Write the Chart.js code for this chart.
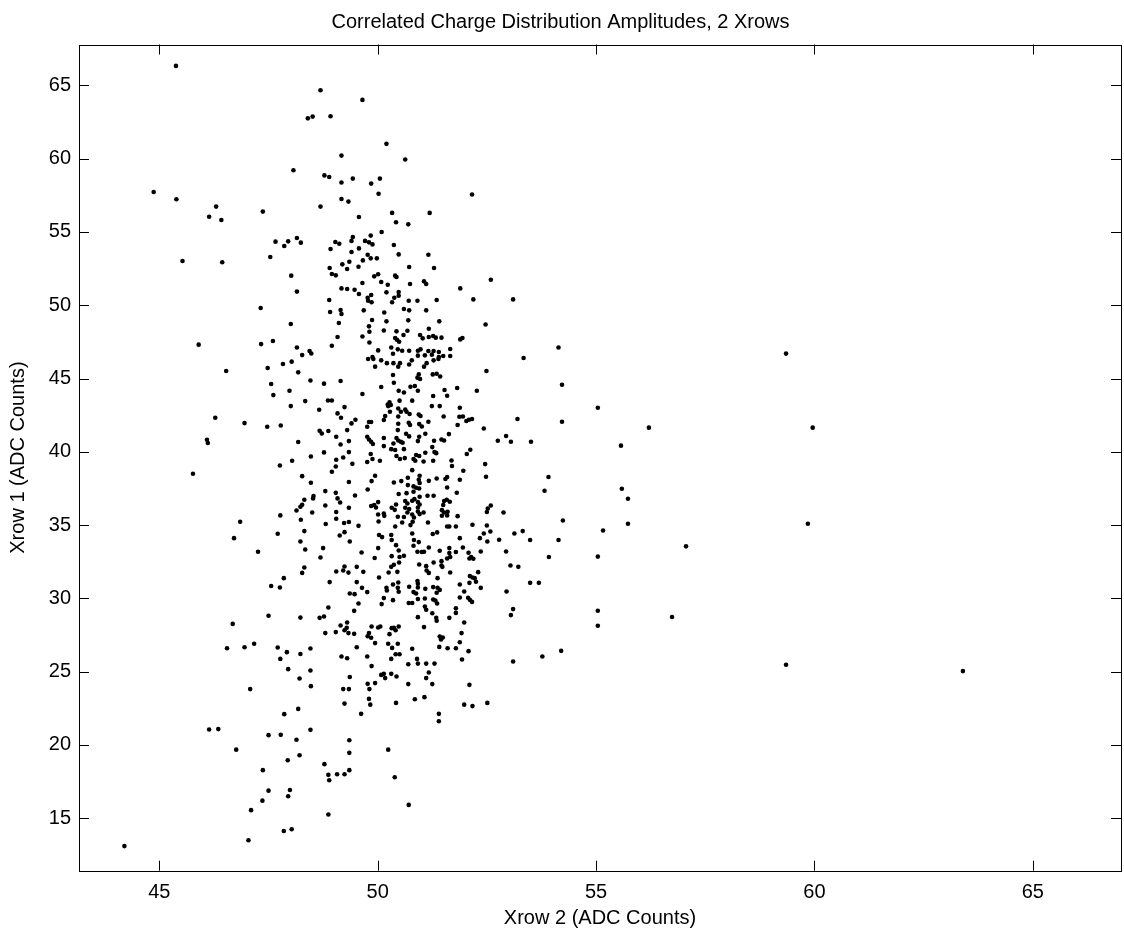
<!DOCTYPE html>
<html>
<head>
<meta charset="utf-8">
<script src="https://cdn.jsdelivr.net/npm/chart.js@4.4.0/dist/chart.umd.min.js"></script>
<style>
  html, body { margin: 0; padding: 0; background: #fff; }
  #wrap { width: 1124px; height: 938px; }
</style>
</head>
<body>
<div id="wrap"><canvas id="scatter" width="1124" height="938"></canvas></div>
<script>
// Xrow 2 amplitude (x) and Xrow 1 amplitude (y), ADC counts
const xrow2 = [
  45.38,48.69,48.40,48.51,48.92,49.17,48.07,48.78,48.89,49.17,44.87,
  49.65,50.20,50.63,49.43,49.85,50.05,50.02,52.16,
  45.39,46.30,46.14,46.42,47.37,48.69,49.17,49.33,47.66,47.95,
  48.15,48.24,47.86,49.03,49.12,48.92,45.53,46.44,47.54,49.35,
  48.90,49.19,49.30,48.95,49.04,48.02,48.15,49.17,49.30,48.89,
  48.91,49.15,49.17,47.32,48.01,49.11,49.08,45.90,47.33,47.60,
  48.15,48.44,48.48,48.27,48.95,48.03,
  50.33,51.19,49.57,50.42,50.70,50.09,49.43,49.84,49.71,49.80,
  49.88,49.40,50.37,49.57,49.40,49.77,49.84,49.98,49.66,50.48,
  51.16,49.56,50.72,51.29,49.92,50.01,50.40,50.43,49.65,50.08,
  50.23,50.74,51.06,51.11,51.89,52.59,49.47,49.57,49.85,50.20,
  50.48,50.48,50.38,49.77,49.78,49.86,50.33,50.71,50.91,51.35,
  52.19,53.10,49.68,50.60,50.72,51.11,50.15,49.87,50.20,50.70,
  51.41,49.80,49.81,50.14,50.43,50.68,51.17,52.47,49.65,50.59,
  50.40,50.44,50.49,50.97,51.03,51.17,51.27,51.33,51.46,51.89,
  51.94,49.81,50.31,50.46,50.56,50.72,50.92,50.98,51.16,51.28,
  51.40,51.66,50.01,50.35,50.92,51.08,51.24,51.40,51.50,51.66,
  49.78,49.88,49.90,50.08,50.78,51.28,51.39,53.34,54.14,
  47.83,47.48,46.53,48.18,48.46,48.77,49.15,47.56,47.61,47.98,
  48.34,48.86,48.95,48.01,49.24,48.66,49.08,49.16,46.28,46.95,
  47.47,47.78,48.67,48.72,48.87,49.30,49.05,46.09,46.11,48.18,
  49.15,49.34,48.77,48.47,49.21,49.05,49.34,48.04,47.76,49.04,
  48.95,45.77,48.27,48.47,49.34,48.80,49.04,48.53,48.52,48.32,
  49.08,49.14,48.80,48.27,48.23,48.14,48.50,49.05,49.34,47.77,
  48.24,49.05,46.85,48.81,49.23,49.34,
  49.94,50.47,50.72,51.06,50.21,50.36,50.51,51.12,52.49,50.35,
  50.94,50.91,50.97,51.26,51.35,51.43,50.37,50.08,50.75,50.85,
  50.92,50.48,50.60,51.53,51.82,52.27,49.65,51.59,51.27,50.50,
  50.79,50.23,50.27,50.30,50.24,51.24,51.42,51.88,50.47,50.63,
  50.53,50.28,50.66,50.73,50.94,50.98,50.17,50.47,51.51,51.87,
  51.95,50.14,49.49,49.40,51.16,52.03,52.09,52.16,53.20,49.85,
  49.80,50.47,50.71,50.74,50.95,51.01,51.83,49.76,52.43,50.46,
  51.63,51.09,50.65,50.72,50.95,49.76,49.80,49.85,49.89,50.14,
  50.43,50.47,50.53,50.57,50.36,50.92,51.46,51.52,51.29,52.75,
  52.94,53.05,53.51,50.14,51.25,51.30,51.34,50.31,50.40,50.60,
  51.09,50.88,50.95,49.84,52.12,52.04,50.43,50.51,50.62,50.82,
  50.86,51.05,51.27,49.88,49.76,50.05,51.69,49.42,51.70,52.46,
  50.79,51.96,50.96,49.94,50.69,52.48,51.35,51.17,51.55,51.59,
  51.88,49.86,50.37,50.54,50.94,50.96,53.91,50.82,50.88,50.95,
  50.69,49.77,51.59,53.82,50.48,50.66,50.82,50.96,51.14,51.28,
  51.81,49.48,50.79,50.84,50.92,50.96,50.63,50.68,50.42,50.01,
  49.85,49.92,49.96,50.32,50.39,51.52,51.58,51.65,51.50,51.47,
  51.52,51.60,51.59,51.47,52.52,52.59,52.50,52.88,50.63,50.68,
  50.72,50.79,50.83,50.92,50.92,50.96,51.05,50.14,50.15,50.01,
  50.46,50.60,51.83,52.17,52.50,50.56,50.40,50.02,49.56,51.15,
  51.59,51.64,51.79,50.75,50.80,
  48.32,47.71,46.71,48.23,49.13,49.24,49.36,48.34,48.75,47.26,
  48.69,48.32,48.27,49.24,49.21,49.33,49.05,47.85,48.90,47.56,
  47.76,49.36,48.87,47.50,48.23,48.67,48.77,46.68,49.15,49.24,
  49.30,49.33,49.29,49.04,48.80,47.17,46.95,46.55,47.71,48.46,
  47.92,48.23,47.77,49.17,49.30,47.95,48.46,49.36,48.21,48.47,
  47.08,49.21,49.34,
  50.03,50.10,50.31,50.32,50.79,51.26,51.36,50.83,50.94,51.88,
  52.34,52.43,52.51,52.58,52.78,53.13,53.32,53.49,54.14,49.63,
  50.01,50.42,50.48,50.82,50.32,49.93,50.50,50.60,50.91,51.01,
  51.06,51.17,51.42,51.64,51.64,51.66,51.59,51.79,51.95,52.08,
  52.10,52.14,52.19,52.36,52.94,53.92,49.52,49.67,50.31,50.37,
  50.49,50.25,50.45,50.95,51.11,51.12,51.17,51.28,51.46,51.46,
  51.48,51.66,53.04,53.22,50.03,49.52,51.37,52.11,52.17,52.22,
  52.30,52.25,52.10,53.49,53.69,50.47,50.35,50.20,50.21,50.46,
  50.48,50.91,50.92,50.92,50.72,51.09,51.27,51.37,51.42,51.35,
  51.88,52.36,51.98,49.64,49.76,49.47,52.95,50.82,50.88,50.92,
  51.08,50.14,50.35,51.27,51.32,51.36,51.88,52.07,52.11,52.16,
  49.56,50.09,50.71,50.79,51.08,51.11,51.79,51.79,49.46,51.25,
  53.10,53.05,50.92,51.34,51.35,51.64,51.98,51.06,49.86,50.01,
  50.06,50.32,50.37,50.41,50.48,49.46,49.77,49.80,49.85,50.27,
  51.42,51.45,51.49,51.41,51.60,51.79,51.88,51.92,49.94,50.24,
  50.33,50.46,49.52,50.79,52.08,50.41,50.50,49.76,50.31,50.90,
  50.92,51.11,51.30,50.70,51.93,53.10,53.77,49.86,51.17,50.08,
  50.14,50.17,50.31,50.43,51.11,49.77,49.81,49.94,50.70,51.25,
  52.10,
  49.24,48.18,47.86,46.14,46.35,47.50,47.78,48.46,48.14,49.35,
  46.76,49.35,47.94,48.21,48.78,47.37,48.87,48.89,49.07,49.24,
  49.35,47.50,47.99,47.95,47.36,47.10,48.87,47.85,48.03,47.04,
  49.80,49.83,50.42,50.85,51.07,49.62,51.40,51.40,51.98,52.17,52.51,50.24,50.39,50.71,
  54.22,54.22,55.04,54.24,55.16,55.04,55.04,55.04,54.20,55.57,55.59,55.73,55.73,
  56.74,56.21,57.06,59.35,59.96,59.85,59.35,63.40,44.20
];
const xrow1 = [
  66.33,64.67,62.75,62.87,62.89,60.21,59.21,58.86,58.75,58.37,57.73,
  64.01,61.01,59.94,58.64,58.30,58.64,57.61,57.56,
  57.23,56.73,56.04,55.82,56.39,56.73,57.25,57.07,54.34,54.36,
  54.59,54.27,54.04,54.32,54.20,53.84,53.02,52.93,53.29,52.97,
  52.54,52.79,52.47,52.13,52.04,52.02,50.93,51.15,51.11,50.36,
  49.54,49.68,49.40,49.81,48.72,48.79,47.83,47.31,47.35,47.56,
  47.12,46.88,46.71,46.60,47.24,46.15,
  56.30,56.30,56.02,55.66,55.52,55.00,54.66,54.75,54.39,54.29,
  54.15,54.39,54.11,53.88,53.63,53.45,53.20,53.20,53.06,53.47,
  53.45,52.63,52.61,52.54,51.97,52.11,52.02,51.93,51.52,51.59,
  51.40,51.45,51.63,51.45,51.15,51.74,51.06,50.77,50.70,50.88,
  50.90,50.65,50.51,50.51,50.31,50.20,50.20,50.31,50.31,50.36,
  50.40,50.40,49.65,49.74,49.65,49.65,49.51,48.99,48.90,48.97,
  48.90,48.56,48.19,48.28,48.22,48.26,48.40,48.69,47.87,47.97,
  47.76,47.65,47.51,47.97,47.74,47.83,47.90,47.79,47.79,47.67,
  47.77,47.46,47.12,46.99,46.90,46.90,46.90,46.99,46.88,46.88,
  46.81,47.01,46.92,46.69,46.56,46.58,46.63,46.47,46.54,46.54,
  46.33,46.47,46.33,46.24,46.24,46.24,46.33,46.40,47.12,
  45.99,45.72,45.51,45.42,44.87,44.65,44.83,44.63,43.87,44.17,
  43.46,43.50,43.50,43.12,43.05,42.87,42.62,42.32,42.32,41.96,
  41.71,41.80,41.44,41.25,41.42,41.48,41.03,40.82,40.60,40.67,
  40.50,40.73,39.96,39.68,39.61,39.46,39.98,39.39,39.07,39.00,
  38.64,38.50,38.34,37.89,37.94,37.32,37.20,36.98,36.82,36.73,
  36.82,36.54,36.34,36.39,36.25,36.00,35.86,35.89,36.18,35.66,
  35.36,35.43,35.23,35.07,35.14,35.21,
  45.81,45.81,45.96,45.81,46.05,46.05,46.05,46.05,45.51,45.24,
  45.28,45.06,44.97,45.28,45.33,45.14,44.71,44.42,44.44,44.49,
  44.17,44.17,44.05,44.22,44.35,44.17,43.94,43.83,43.81,43.49,
  43.49,43.23,43.37,43.19,43.12,43.12,43.12,43.01,42.96,42.89,
  42.73,42.73,42.73,42.58,42.55,42.44,42.44,42.41,42.41,42.39,
  42.41,42.17,42.19,41.94,42.05,42.10,42.19,42.24,42.24,42.03,
  42.03,41.91,41.98,41.83,41.89,41.73,41.83,41.71,41.59,41.48,
  41.21,41.23,41.23,41.05,41.03,41.03,40.84,40.69,40.53,40.94,
  40.94,40.77,40.69,40.62,40.57,40.73,40.84,40.77,40.75,40.75,
  41.08,40.69,40.69,40.39,40.32,39.98,39.91,40.18,40.12,40.18,
  39.94,39.78,39.71,39.85,40.14,39.85,39.71,39.51,39.57,39.51,
  39.39,39.34,39.39,39.51,39.30,39.39,39.41,39.18,39.03,39.16,
  38.75,38.71,38.37,38.37,38.23,38.30,38.18,38.02,38.14,38.28,
  38.09,38.00,37.91,38.00,38.09,37.87,38.28,37.64,37.55,37.50,
  37.73,37.43,37.57,37.34,37.12,37.18,37.27,36.93,37.00,37.00,
  37.21,37.02,36.66,36.77,36.57,36.41,36.64,36.47,36.41,36.57,
  36.30,36.37,36.20,36.18,36.04,36.64,36.73,36.59,36.37,36.02,
  35.86,35.91,35.66,35.64,36.13,36.34,35.89,35.86,36.18,35.86,
  36.09,35.72,35.52,36.20,35.93,35.75,35.86,35.79,35.63,35.72,
  35.57,35.55,35.61,35.02,34.97,35.18,34.90,35.25,34.95,35.18,
  34.90,34.90,34.90,35.00,35.23,
  34.59,34.41,34.11,33.88,34.29,34.52,33.88,33.33,33.43,33.18,
  32.79,32.11,31.74,32.17,31.90,31.76,31.83,31.38,31.11,30.84,
  30.74,30.33,29.38,28.81,28.69,28.67,28.76,28.26,28.15,27.83,
  28.35,27.63,27.99,27.70,27.63,26.90,26.67,26.60,26.65,26.58,
  26.33,26.21,25.87,26.03,25.92,25.17,25.08,24.64,24.53,24.01,
  23.81,23.81,23.81,
  34.32,34.18,34.32,33.98,34.43,34.39,34.50,33.98,33.84,34.11,
  34.11,34.43,33.88,34.56,34.00,34.43,34.59,33.98,33.98,33.13,
  33.43,33.63,33.27,33.59,32.88,32.75,32.82,32.90,33.18,33.16,
  33.18,33.47,33.25,33.43,33.09,32.82,32.72,33.16,33.47,33.11,
  32.72,32.82,32.70,33.20,33.20,32.82,32.15,31.81,32.15,32.29,
  32.45,31.77,31.81,32.31,32.20,31.90,31.74,32.45,32.54,32.24,
  32.15,31.77,32.24,32.15,31.42,31.11,31.38,31.52,31.42,31.38,
  31.79,31.13,31.06,31.06,31.06,31.08,30.95,30.72,30.54,30.72,
  30.45,31.18,30.99,30.74,30.79,30.65,30.77,30.72,30.58,30.38,
  30.95,30.72,30.47,30.72,30.43,30.29,30.47,30.43,30.33,29.96,
  29.99,30.02,29.88,29.92,29.85,29.65,30.06,30.04,29.90,29.76,
  29.65,29.61,29.68,29.68,29.44,29.22,29.33,29.01,29.15,28.99,
  29.27,28.86,28.72,28.67,28.47,28.67,28.35,28.04,28.08,28.01,
  28.08,27.97,27.99,27.83,28.08,27.58,27.42,27.63,27.31,27.56,
  27.40,27.19,27.33,26.69,26.60,26.60,27.01,27.63,26.95,26.90,
  26.62,26.90,26.67,26.56,26.40,26.19,26.19,26.03,25.87,25.87,
  25.55,25.55,25.55,25.51,25.83,25.69,26.03,25.38,24.94,24.78,
  24.85,24.56,24.85,24.67,24.56,24.17,23.81,24.22,24.15,24.15,
  24.10,
  22.82,22.46,22.10,21.05,21.08,20.67,20.69,21.03,20.35,20.32,
  19.68,19.46,18.96,19.30,18.69,18.28,17.96,17.59,18.00,18.00,
  18.28,16.88,16.93,16.50,16.20,15.55,15.25,14.13,14.25,13.50,
  23.14,22.75,22.87,23.12,23.26,22.12,22.12,21.62,22.75,22.65,22.87,19.68,17.80,15.91,
  44.58,42.05,43.01,35.31,34.63,32.85,29.16,28.13,26.42,40.42,37.48,36.80,35.09,
  28.73,41.65,33.55,46.70,41.65,35.09,25.47,25.04,13.10
];

const xTicks = [45, 50, 55, 60, 65];
const yTicks = [15, 20, 25, 30, 35, 40, 45, 50, 55, 60, 65];
const xLimits = [43.16, 67.02];
const yLimits = [11.42, 67.79];

const points = xrow2.map((x, i) => ({ x: x, y: xrow1[i] }));

// matlab style box with inward ticks on all four sides
const boxTicks = {
  id: 'boxTicks',
  afterDraw(chart) {
    const { ctx, chartArea: a, scales } = chart;
    const len = 10;
    ctx.save();
    ctx.strokeStyle = '#000';
    ctx.lineWidth = 1;
    ctx.strokeRect(Math.round(a.left) + 0.5, Math.round(a.top) + 0.5,
      Math.round(a.right - a.left), Math.round(a.bottom - a.top));
    ctx.beginPath();
    xTicks.forEach(v => {
      const px = Math.round(scales.x.getPixelForValue(v)) + 0.5;
      ctx.moveTo(px, a.bottom); ctx.lineTo(px, a.bottom - len);
      ctx.moveTo(px, a.top); ctx.lineTo(px, a.top + len);
    });
    yTicks.forEach(v => {
      const py = Math.round(scales.y.getPixelForValue(v)) + 0.5;
      ctx.moveTo(a.left, py); ctx.lineTo(a.left + len, py);
      ctx.moveTo(a.right, py); ctx.lineTo(a.right - len, py);
    });
    ctx.stroke();
    ctx.restore();
  }
};

const font = 'Liberation Sans, Arial, Helvetica, sans-serif';

new Chart(document.getElementById('scatter'), {
  type: 'scatter',
  data: {
    datasets: [{
      data: points,
      pointRadius: 2.3,
      pointBackgroundColor: '#000',
      pointBorderWidth: 0,
      pointHoverRadius: 2.3
    }]
  },
  options: {
    responsive: false,
    animation: false,
    events: [],
    layout: { padding: { left: 0, right: 3, top: 0, bottom: 0 } },
    plugins: {
      legend: { display: false },
      tooltip: { enabled: false },
      title: {
        display: true,
        text: 'Correlated Charge Distribution Amplitudes, 2 Xrows',
        color: '#000',
        font: { family: font, size: 20, weight: 'normal' },
        padding: { top: 10, bottom: 10.5 }
      }
    },
    scales: {
      x: {
        type: 'linear',
        min: xLimits[0],
        max: xLimits[1],
        afterBuildTicks: s => { s.ticks = xTicks.map(v => ({ value: v })); },
        afterFit: s => { s.height = 67.3; },
        grid: { display: false, drawTicks: false },
        border: { display: false },
        ticks: { color: '#000', font: { family: font, size: 20 }, padding: 10, maxRotation: 0 },
        title: {
          display: true,
          text: 'Xrow 2 (ADC Counts)',
          color: '#000',
          font: { family: font, size: 20 },
          padding: { top: 0, bottom: 8 }
        }
      },
      y: {
        type: 'linear',
        min: yLimits[0],
        max: yLimits[1],
        afterBuildTicks: s => { s.ticks = yTicks.map(v => ({ value: v })); },
        afterFit: s => { s.width = 79; },
        grid: { display: false, drawTicks: false },
        border: { display: false },
        ticks: { color: '#000', font: { family: font, size: 20 }, padding: 8 },
        title: {
          display: true,
          text: 'Xrow 1 (ADC Counts)',
          color: '#000',
          font: { family: font, size: 20 },
          padding: { top: 6, bottom: 0 }
        }
      }
    }
  },
  plugins: [boxTicks]
});
</script>
</body>
</html>
